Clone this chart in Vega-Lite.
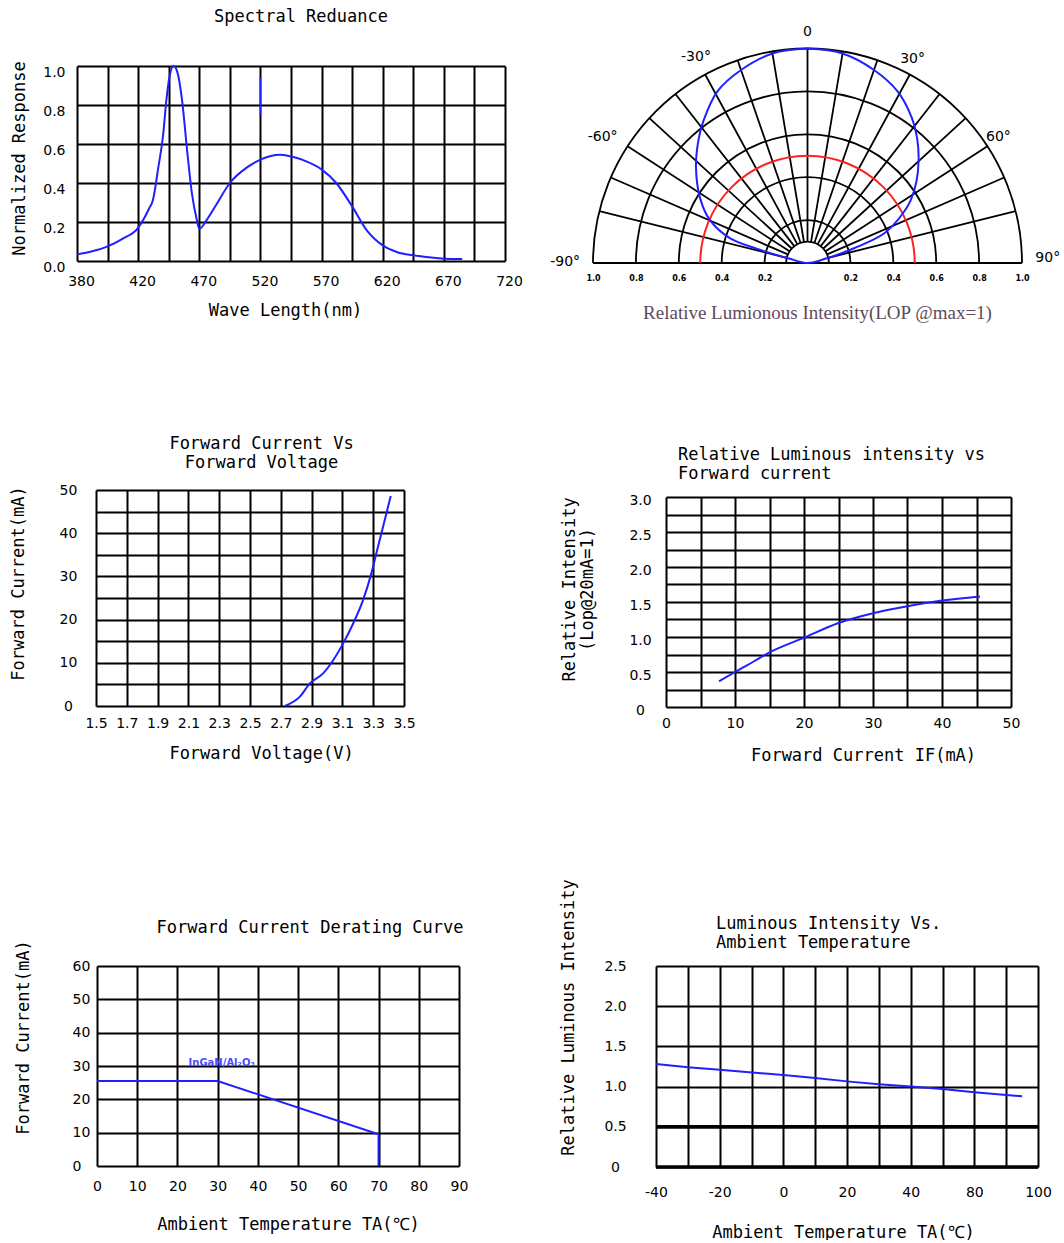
{
  "$schema": "https://vega.github.io/schema/vega-lite/v6.json",
  "padding": 0,
  "background": "white",
  "config": {
    "view": {"stroke": null},
    "font": "DejaVu Sans",
    "axis": {
      "domain": false, "ticks": false, "grid": true,
      "gridColor": "#000", "gridOpacity": 1, "gridWidth": 2,
      "labelFont": "DejaVu Sans", "labelFontSize": 14, "labelColor": "#000",
      "labelFlush": false, "labelOverlap": false,
      "titleFont": "DejaVu Sans Mono", "titleFontSize": 17, "titleFontWeight": "normal",
      "titleColor": "#000", "titleBaseline": "middle"
    },
    "title": {"font": "DejaVu Sans Mono", "fontSize": 17, "fontWeight": "normal", "color": "#000", "frame": "group"},
    "line": {"color": "#1f1fff", "strokeWidth": 2},
    "text": {"font": "DejaVu Sans", "fontSize": 14, "color": "#000"}
  },
  "columns": 4,
  "spacing": 0,
  "bounds": "flush",
  "align": {"row": "each", "column": "each"},
  "concat": [
    {"width": 1, "height": 66, "data": {"values": []}, "mark": "point"},
    {"width": 1, "height": 1, "data": {"values": []}, "mark": "point"},
    {"width": 1, "height": 1, "data": {"values": []}, "mark": "point"},
    {"width": 1, "height": 1, "data": {"values": []}, "mark": "point"},

    {"width": 77, "height": 424, "data": {"values": []}, "mark": "point"},
    {
      "width": 428, "height": 195,
      "title": {"text": "Spectral  Reduance", "offset": 30, "dx": 10},
      "layer": [
        {
          "data": {"values": [
            {"wavelength": 380, "response": 0.034}, {"wavelength": 390, "response": 0.05},
            {"wavelength": 400, "response": 0.075}, {"wavelength": 410, "response": 0.115},
            {"wavelength": 420, "response": 0.17}, {"wavelength": 425, "response": 0.22},
            {"wavelength": 429, "response": 0.27}, {"wavelength": 432, "response": 0.31},
            {"wavelength": 436.5, "response": 0.48}, {"wavelength": 440.5, "response": 0.65},
            {"wavelength": 443, "response": 0.82}, {"wavelength": 445.5, "response": 0.94},
            {"wavelength": 449, "response": 1.0}, {"wavelength": 452, "response": 0.97},
            {"wavelength": 456, "response": 0.82}, {"wavelength": 460, "response": 0.57},
            {"wavelength": 464, "response": 0.345}, {"wavelength": 468, "response": 0.21},
            {"wavelength": 470, "response": 0.165}, {"wavelength": 476, "response": 0.21},
            {"wavelength": 484, "response": 0.29}, {"wavelength": 495, "response": 0.40},
            {"wavelength": 509, "response": 0.48}, {"wavelength": 520, "response": 0.52},
            {"wavelength": 536, "response": 0.545}, {"wavelength": 547, "response": 0.533},
            {"wavelength": 558, "response": 0.51}, {"wavelength": 570, "response": 0.47},
            {"wavelength": 582, "response": 0.40}, {"wavelength": 595, "response": 0.28},
            {"wavelength": 607, "response": 0.157}, {"wavelength": 620, "response": 0.08},
            {"wavelength": 632, "response": 0.045}, {"wavelength": 645, "response": 0.029},
            {"wavelength": 670, "response": 0.012}, {"wavelength": 685, "response": 0.01}
          ]},
          "mark": {"type": "line", "interpolate": "monotone"},
          "encoding": {
            "x": {
              "field": "wavelength", "type": "quantitative",
              "scale": {"domain": [380, 420, 470, 520, 570, 620, 670, 720], "range": [0, 61.143, 122.286, 183.429, 244.571, 305.714, 366.857, 428], "nice": false},
              "axis": {
                "values": [380, 400, 420, 445, 470, 495, 520, 545, 570, 595, 620, 645, 670, 695, 720], "tickCount": 200,
                "labelExpr": "indexof([380,420,470,520,570,620,670,720], datum.value) >= 0 ? '' + datum.value : ''",
                "labelPadding": 13, "labelOffset": 4,
                "title": "Wave Length(nm)", "titleX": 208, "titleY": 49
              }
            },
            "y": {
              "field": "response", "type": "quantitative",
              "scale": {"domain": [0, 1], "nice": false},
              "axis": {
                "values": [0, 0.2, 0.4, 0.6, 0.8, 1.0], "tickCount": 200, "format": ".1f",
                "labelPadding": 12, "labelOffset": 6, "labelBaseline": "middle",
                "title": "Normalized  Response", "titleX": -58, "titleY": 92
              }
            }
          }
        },
        {
          "data": {"values": [{"wavelength": 520, "lo": 0.75, "hi": 0.94}]},
          "mark": {"type": "rule", "color": "#1f1fff", "strokeWidth": 1.5},
          "encoding": {
            "x": {"field": "wavelength", "type": "quantitative"},
            "y": {"field": "lo", "type": "quantitative"},
            "y2": {"field": "hi"}
          }
        }
      ]
    },
    {"width": 88, "height": 1, "data": {"values": []}, "mark": "point"},
    {
      "width": 429, "height": 197,
      "layer": [
        {
          "data": {"values": [{"ring": 0.1}, {"ring": 0.2}, {"ring": 0.4}, {"ring": 0.6}, {"ring": 0.8}, {"ring": 1.0}]},
          "mark": {"type": "arc", "theta": -1.5708, "theta2": 1.5708, "filled": false, "fill": null, "stroke": "#000", "strokeWidth": 1.8},
          "encoding": {
            "x": {
              "datum": 0, "type": "quantitative",
              "scale": {"domain": [-1, 1], "nice": false},
              "axis": {
                "values": [-1, -0.8, -0.6, -0.4, -0.2, 0.2, 0.4, 0.6, 0.8, 1], "tickCount": 200,
                "labelExpr": "format(abs(datum.value), '.1f')",
                "grid": false, "labelFontSize": 8, "labelFontWeight": "bold", "labelPadding": 11,
                "title": "Relative Lumionous Intensity(LOP @max=1)",
                "titleFont": "Liberation Serif", "titleFontSize": 19, "titleColor": "#5e4a5e",
                "titleX": 224, "titleY": 49
              }
            },
            "y": {"datum": 0, "type": "quantitative", "scale": {"domain": [0, 0.9184], "nice": false}, "axis": null},
            "radius": {"field": "ring", "type": "quantitative", "scale": {"type": "linear", "domain": [0, 1], "range": [0, 214.5], "zero": true}},
            "radius2": {"field": "ring"}
          }
        },
        {
          "data": {"values": [
            {"angle": -90, "r0": 0, "r1": 1}, {"angle": -76, "r0": 0.1, "r1": 1}, {"angle": -66.5, "r0": 0.1, "r1": 1},
            {"angle": -57, "r0": 0.1, "r1": 1}, {"angle": -47.5, "r0": 0.1, "r1": 1}, {"angle": -38, "r0": 0.1, "r1": 1},
            {"angle": -28.5, "r0": 0.1, "r1": 1}, {"angle": -19, "r0": 0.1, "r1": 1}, {"angle": -9.5, "r0": 0.1, "r1": 1},
            {"angle": 0, "r0": 0.1, "r1": 1}, {"angle": 9.5, "r0": 0.1, "r1": 1}, {"angle": 19, "r0": 0.1, "r1": 1},
            {"angle": 28.5, "r0": 0.1, "r1": 1}, {"angle": 38, "r0": 0.1, "r1": 1}, {"angle": 47.5, "r0": 0.1, "r1": 1},
            {"angle": 57, "r0": 0.1, "r1": 1}, {"angle": 66.5, "r0": 0.1, "r1": 1}, {"angle": 76, "r0": 0.1, "r1": 1},
            {"angle": 90, "r0": 0, "r1": 1}
          ]},
          "mark": {"type": "arc", "filled": false, "fill": null, "stroke": "#000", "strokeWidth": 1.8},
          "encoding": {
            "x": {"datum": 0, "type": "quantitative"},
            "y": {"datum": 0, "type": "quantitative", "axis": null},
            "theta": {"field": "angle", "type": "quantitative", "stack": null, "scale": {"type": "linear", "domain": [-90, 90], "range": [-1.5708, 1.5708]}},
            "theta2": {"field": "angle"},
            "radius": {"field": "r0", "type": "quantitative", "scale": {"type": "linear", "domain": [0, 1], "range": [0, 214.5], "zero": true}},
            "radius2": {"field": "r1"}
          }
        },
        {
          "data": {"values": [{"ring": 0.5}]},
          "mark": {"type": "arc", "theta": -1.5708, "theta2": 1.5708, "filled": false, "fill": null, "stroke": "#ff2020", "strokeWidth": 2},
          "encoding": {
            "x": {"datum": 0, "type": "quantitative"},
            "y": {"datum": 0, "type": "quantitative", "axis": null},
            "radius": {"field": "ring", "type": "quantitative", "scale": {"type": "linear", "domain": [0, 1], "range": [0, 214.5], "zero": true}},
            "radius2": {"field": "ring"}
          }
        },
        {
          "data": {"values": [
            {"i": 0, "px": 0, "py": 1.0}, {"i": 1, "px": 0.16, "py": 0.978}, {"i": 2, "px": 0.31, "py": 0.90},
            {"i": 3, "px": 0.42, "py": 0.80}, {"i": 4, "px": 0.485, "py": 0.68}, {"i": 5, "px": 0.512, "py": 0.575},
            {"i": 6, "px": 0.518, "py": 0.48}, {"i": 7, "px": 0.508, "py": 0.38}, {"i": 8, "px": 0.48, "py": 0.29},
            {"i": 9, "px": 0.44, "py": 0.225}, {"i": 10, "px": 0.36, "py": 0.14}, {"i": 11, "px": 0.22, "py": 0.07},
            {"i": 12, "px": 0.09, "py": 0.022}, {"i": 13, "px": 0, "py": 0},
            {"i": 14, "px": -0.09, "py": 0.022}, {"i": 15, "px": -0.24, "py": 0.068}, {"i": 16, "px": -0.36, "py": 0.115},
            {"i": 17, "px": -0.455, "py": 0.2}, {"i": 18, "px": -0.5, "py": 0.3}, {"i": 19, "px": -0.52, "py": 0.449},
            {"i": 20, "px": -0.508, "py": 0.575}, {"i": 21, "px": -0.486, "py": 0.66}, {"i": 22, "px": -0.42, "py": 0.80},
            {"i": 23, "px": -0.31, "py": 0.90}, {"i": 24, "px": -0.16, "py": 0.978}, {"i": 25, "px": 0, "py": 1.0}
          ]},
          "mark": {"type": "line", "interpolate": "catmull-rom", "strokeWidth": 2},
          "encoding": {
            "x": {"field": "px", "type": "quantitative"},
            "y": {"field": "py", "type": "quantitative", "axis": null},
            "order": {"field": "i"}
          }
        },
        {
          "data": {"values": [
            {"t": "0", "px": 0, "py": 1.078}, {"t": "-30°", "px": -0.52, "py": 0.96},
            {"t": "30°", "px": 0.49, "py": 0.95}, {"t": "-60°", "px": -0.955, "py": 0.589},
            {"t": "60°", "px": 0.89, "py": 0.589}, {"t": "-90°", "px": -1.13, "py": 0.006},
            {"t": "90°", "px": 1.12, "py": 0.022}
          ]},
          "mark": {"type": "text", "fontSize": 14},
          "encoding": {
            "x": {"field": "px", "type": "quantitative"},
            "y": {"field": "py", "type": "quantitative", "axis": null},
            "text": {"field": "t"}
          }
        }
      ]
    },

    {"width": 1, "height": 476, "data": {"values": []}, "mark": "point"},
    {
      "width": 327, "height": 216,
      "title": {"text": ["Forward Current Vs", "Forward Voltage"], "offset": 11, "dx": 21, "lineHeight": 19},
      "data": {"values": [
        {"voltage": 2.727, "current": 0}, {"voltage": 2.824, "current": 2.16}, {"voltage": 2.889, "current": 5.25},
        {"voltage": 2.975, "current": 7.56}, {"voltage": 3.04, "current": 10.6}, {"voltage": 3.105, "current": 14.5},
        {"voltage": 3.17, "current": 19.1}, {"voltage": 3.234, "current": 24.5}, {"voltage": 3.288, "current": 30.7},
        {"voltage": 3.32, "current": 35.3}, {"voltage": 3.364, "current": 41.5}, {"voltage": 3.414, "current": 48.6}
      ]},
      "mark": {"type": "line", "interpolate": "monotone"},
      "encoding": {
        "x": {
          "field": "voltage", "type": "quantitative",
          "scale": {"domain": [1.5, 3.5], "range": [19, 327], "nice": false, "zero": false},
          "axis": {
            "values": [1.5, 1.7, 1.9, 2.1, 2.3, 2.5, 2.7, 2.9, 3.1, 3.3, 3.5], "tickCount": 200, "format": ".1f",
            "labelPadding": 10, "title": "Forward Voltage(V)", "titleX": 184, "titleY": 47
          }
        },
        "y": {
          "field": "current", "type": "quantitative",
          "scale": {"domain": [0, 50], "nice": false},
          "axis": {
            "values": [0, 5, 10, 15, 20, 25, 30, 35, 40, 45, 50], "tickCount": 200,
            "labelExpr": "datum.value % 10 == 0 ? format(datum.value, 'd') : ''",
            "labelAlign": "center", "labelPadding": 28, "offset": -19,
            "title": "Forward Current(mA)", "titleX": -78, "titleY": 93
          }
        }
      }
    },
    {"width": 1, "height": 1, "data": {"values": []}, "mark": "point"},
    {
      "spacing": 0, "bounds": "flush",
      "vconcat": [
        {"width": 1, "height": 7, "data": {"values": []}, "mark": "point"},
        {
          "width": 418, "height": 210,
          "title": {"text": ["Relative Luminous intensity vs", "Forward current"], "anchor": "start", "offset": 9, "dx": 85, "lineHeight": 19},
          "data": {"values": [
            {"current": 7.7, "intensity": 0.367}, {"current": 10, "intensity": 0.5}, {"current": 12.7, "intensity": 0.65},
            {"current": 15, "intensity": 0.78}, {"current": 20, "intensity": 0.99}, {"current": 25, "intensity": 1.2},
            {"current": 30, "intensity": 1.34}, {"current": 35, "intensity": 1.44}, {"current": 40, "intensity": 1.52},
            {"current": 45.5, "intensity": 1.58}
          ]},
          "mark": {"type": "line", "interpolate": "monotone"},
          "encoding": {
            "x": {
              "field": "current", "type": "quantitative",
              "scale": {"domain": [0, 50], "range": [73, 418], "nice": false},
              "axis": {
                "values": [0, 5, 10, 15, 20, 25, 30, 35, 40, 45, 50], "tickCount": 200,
                "labelExpr": "datum.value % 10 == 0 ? format(datum.value, 'd') : ''",
                "labelPadding": 9, "title": "Forward Current IF(mA)", "titleX": 270, "titleY": 48
              }
            },
            "y": {
              "field": "intensity", "type": "quantitative",
              "scale": {"domain": [0, 3], "nice": false},
              "axis": {
                "values": [0, 0.25, 0.5, 0.75, 1, 1.25, 1.5, 1.75, 2, 2.25, 2.5, 2.75, 3], "tickCount": 200,
                "labelExpr": "datum.value % 0.5 == 0 ? (datum.value == 0 ? '0' : format(datum.value, '.1f')) : ''",
                "labelAlign": "center", "labelPadding": 26, "labelOffset": 3, "offset": -73,
                "title": ["Relative  Intensity", "(Lop@20mA=1)"], "titleLineHeight": 18,
                "titleX": -97, "titleY": 92
              }
            }
          }
        }
      ]
    },

    {"width": 1, "height": 1, "data": {"values": []}, "mark": "point"},
    {
      "width": 382, "height": 200,
      "title": {"text": "Forward Current Derating Curve", "offset": 3, "dx": 42},
      "layer": [
        {
          "data": {"values": [
            {"step": 1, "temp": 0, "current": 25.5}, {"step": 2, "temp": 30, "current": 25.5},
            {"step": 3, "temp": 70, "current": 9.5}, {"step": 4, "temp": 70, "current": 0}
          ]},
          "mark": {"type": "line"},
          "encoding": {
            "x": {
              "field": "temp", "type": "quantitative",
              "scale": {"domain": [0, 90], "range": [20, 382], "nice": false},
              "axis": {
                "values": [0, 10, 20, 30, 40, 50, 60, 70, 80, 90], "tickCount": 200, "format": "d",
                "labelPadding": 13, "title": "Ambient Temperature TA(℃)", "titleX": 211, "titleY": 58
              }
            },
            "y": {
              "field": "current", "type": "quantitative",
              "scale": {"domain": [0, 60], "nice": false},
              "axis": {
                "values": [0, 10, 20, 30, 40, 50, 60], "tickCount": 200, "format": "d",
                "labelAlign": "left", "labelPadding": 25, "offset": -20,
                "title": "Forward Current(mA)", "titleX": -74, "titleY": 71
              }
            },
            "order": {"field": "step"}
          }
        },
        {
          "data": {"values": [{"temp": 31, "current": 30.9, "label": "InGaN/Al₂O₃"}]},
          "mark": {"type": "text", "fontSize": 10, "fontWeight": "bold", "color": "#4a4aff"},
          "encoding": {
            "x": {"field": "temp", "type": "quantitative"},
            "y": {"field": "current", "type": "quantitative"},
            "text": {"field": "label"}
          }
        }
      ]
    },
    {"width": 1, "height": 1, "data": {"values": []}, "mark": "point"},
    {
      "width": 445, "height": 201,
      "title": {"text": ["Luminous Intensity Vs.", "Ambient Temperature"], "anchor": "start", "offset": -73, "dx": 123, "lineHeight": 19},
      "layer": [
        {
          "data": {"values": [
            {"temp": -40, "intensity": 1.28}, {"temp": -30, "intensity": 1.24}, {"temp": -20, "intensity": 1.21},
            {"temp": 0, "intensity": 1.144}, {"temp": 10, "intensity": 1.107}, {"temp": 20, "intensity": 1.065},
            {"temp": 30, "intensity": 1.03}, {"temp": 40, "intensity": 1.0}, {"temp": 50, "intensity": 0.97},
            {"temp": 60, "intensity": 0.93}, {"temp": 75, "intensity": 0.88}
          ]},
          "mark": {"type": "line"},
          "encoding": {
            "x": {
              "field": "temp", "type": "quantitative",
              "scale": {"domain": [-40, 80], "range": [63, 445], "nice": false, "zero": false},
              "axis": {
                "values": [-40, -30, -20, -10, 0, 10, 20, 30, 40, 50, 60, 70, 80], "tickCount": 200,
                "labelExpr": "datum.value == 60 ? '80' : datum.value == 80 ? '100' : (datum.value % 20 == 0 ? '' + datum.value : '')",
                "labelPadding": 18, "title": "Ambient Temperature TA(℃)", "titleX": 250, "titleY": 65
              }
            },
            "y": {
              "field": "intensity", "type": "quantitative",
              "scale": {"domain": [0, 2.5], "nice": false},
              "axis": {
                "values": [0, 0.5, 1, 1.5, 2, 2.5], "tickCount": 200,
                "labelExpr": "datum.value == 0 ? '0' : format(datum.value, '.1f')",
                "labelAlign": "center", "labelPadding": 41, "offset": -63,
                "title": "Relative Luminous Intensity", "titleX": -88, "titleY": 51
              }
            }
          }
        },
        {
          "data": {"values": [{"intensity": 0, "t0": -40, "t1": 80}, {"intensity": 0.5, "t0": -40, "t1": 80}]},
          "mark": {"type": "rule", "color": "#000", "strokeWidth": 3.5},
          "encoding": {
            "x": {"field": "t0", "type": "quantitative"},
            "x2": {"field": "t1"},
            "y": {"field": "intensity", "type": "quantitative"}
          }
        }
      ]
    }
  ]
}
